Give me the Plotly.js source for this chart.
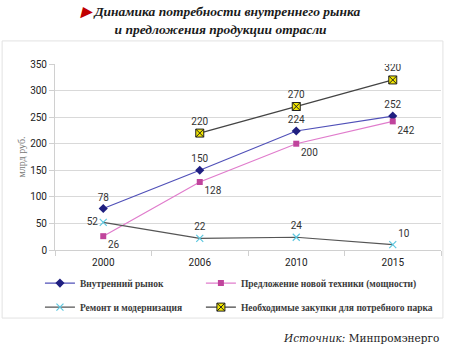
<!DOCTYPE html>
<html><head><meta charset="utf-8">
<script src="https://cdn.plot.ly/plotly-3.0.1.min.js"></script>
<style>body{margin:0;background:#fff}#c{width:450px;height:350px}</style>
</head><body><div id="c"></div>
<script>
const years = ['2000','2006','2010','2015'];
const seriesNames = ['Внутренний рынок','Предложение новой техники (мощности)','Ремонт и модернизация','Необходимые закупки для потребного парка'];
const market = [78,150,224,252];
const supply = [26,128,200,242];
const repair = [52,22,24,10];
const purchases = [null,220,270,320];

const tf = {family:'"Liberation Sans Narrow", "Roboto", sans-serif', size:10, color:'#333'};
const traces = [
  {x:years, y:market, name:seriesNames[0], legend:'legend', legendgroup:'a', mode:'lines+markers+text',
   text:market.map(String), textposition:['top center','top center','top center','top center'], textfont:tf,
   line:{color:'#5050b8', width:1.2}, marker:{symbol:'diamond', color:'#1f1f80', size:7}},
  {x:years, y:supply, name:seriesNames[1], legend:'legend2', legendgroup:'b', mode:'lines+markers+text',
   text:supply.map(String), textposition:['bottom right','bottom right','bottom right','bottom right'], textfont:tf,
   line:{color:'#e07ccc', width:1.2}, marker:{symbol:'square', color:'#c0449c', size:6}},
  {x:years, y:repair, name:seriesNames[2], legend:'legend', legendgroup:'c', mode:'lines+markers+text',
   text:repair.map(String), textposition:['middle left','top center','top center','top right'], textfont:tf,
   line:{color:'#555555', width:1.2}, marker:{symbol:'x-thin', color:'#5ec8e0', size:7, line:{color:'#5ec8e0', width:1.2}}},
  {x:years, y:purchases, name:seriesNames[3], legend:'legend2', legendgroup:'d', mode:'lines+markers+text',
   text:purchases.map(v=>v==null?'':String(v)), textposition:['top center','top center','top center','top center'], textfont:tf,
   line:{color:'#444444', width:1.2}, marker:{symbol:'square-x', color:'#f2e600', size:8, line:{color:'#222', width:1}}}
];

const legFont = {family:'"Liberation Serif", serif', size:9.5, color:'#3a3a3a', weight:'bold'};
const legBase = {orientation:'v', xanchor:'left', y:-0.1, yanchor:'top', itemwidth:30, tracegroupgap:5,
  traceorder:'grouped', font:legFont, bgcolor:'rgba(0,0,0,0)'};

const layout = {
  width:450, height:350,
  margin:{l:55, r:9, t:64, b:100},
  paper_bgcolor:'#fff', plot_bgcolor:'#fff',
  showlegend:true,
  xaxis:{type:'category', range:[-0.5,3.5], showgrid:false, showline:true, linecolor:'#d0d0d0',
    ticks:'outside', tickson:'boundaries', ticklen:5, tickcolor:'#d0d0d0', ticklabelstandoff:3,
    tickfont:{family:'"Liberation Sans Narrow", "Roboto", sans-serif', size:10, color:'#222'}},
  yaxis:{range:[0,350], dtick:50, showgrid:true, gridcolor:'#d9d9d9', zeroline:false, showline:true, linecolor:'#d0d0d0',
    ticks:'outside', ticklen:5, tickcolor:'#d0d0d0',
    tickfont:{family:'"Liberation Sans Narrow", "Roboto", sans-serif', size:10, color:'#222'},
    title:{text:'млрд руб.', standoff:2, font:{family:'"Liberation Serif", serif', size:10, color:'#777'}}},
  legend:Object.assign({}, legBase, {x:-0.039}),
  legend2:Object.assign({}, legBase, {x:0.378}),
  shapes:[{type:'rect', xref:'paper', yref:'paper', x0:-0.137, x1:1.005, y0:-0.366, y1:1.124,
    line:{color:'#e2e2e2', width:1}, fillcolor:'rgba(0,0,0,0)', layer:'below'}],
  annotations:[
    {xref:'paper', yref:'paper', x:(220-55)/386, xanchor:'center', y:(250-2)/186, yanchor:'top', showarrow:false,
     text:'<span style="color:#c00000">▶</span> Динамика потребности внутреннего рынка<br>и предложения продукции отрасли',
     font:{family:'"Liberation Serif", serif', size:13.5, color:'#1a1a1a', weight:'bold', style:'italic'}},
    {xref:'paper', yref:'paper', x:1.0, xanchor:'right', y:(250-338)/186, yanchor:'middle', showarrow:false,
    text:'<i>Источник:</i> Минпромэнерго', font:{family:'"DejaVu Serif", serif', size:10.5, color:'#222'}}]
};
Plotly.newPlot('c', traces, layout, {displayModeBar:false, staticPlot:true});
</script></body></html>
